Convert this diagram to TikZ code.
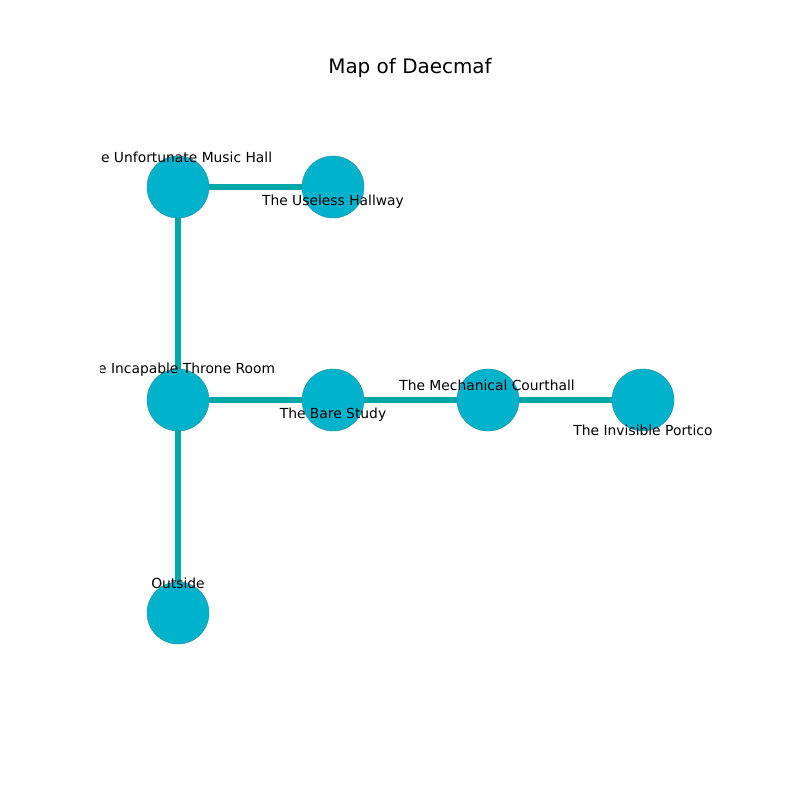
\documentclass[tikz,border=0pt]{standalone}
\usepackage{fontspec}
\setmainfont{DejaVu Sans}
\usepackage{tikz}
\usetikzlibrary{backgrounds}
\definecolor{roomfill}{RGB}{0, 178, 204}
\definecolor{roomedge}{RGB}{40, 140, 150}
\definecolor{pathcolor}{RGB}{0, 168, 168}

\begin{document}
\begin{tikzpicture}[x=0.01in, y=-0.01in,
        room/.style={circle, fill=roomfill, draw=roomedge, line width=0.3pt, inner sep=0pt, minimum size=0.62in},
        lbl/.style={font=\fontsize{10}{12}\selectfont, inner sep=0pt, anchor=center},
        corridor/.style={pathcolor, line width=4.3pt}]
        \useasboundingbox (0,0) rectangle (800,800);

        % Title
        \node[font=\fontsize{14.4}{17}\selectfont, inner sep=0pt] (title) at (410,68) {Map of Daecmaf};

        \begin{scope}
            \clip (100,96) rectangle (720,712);
            % Rooms
            \node[room] (music) at (178,187) {};
            \node[room] (hallway) at (333,187) {};
            \node[room] (throne) at (178,400) {};
            \node[room] (study) at (333,400) {};
            \node[room] (court) at (488,400) {};
            \node[room] (portico) at (643,400) {};
            \node[room] (outside) at (178,613) {};

            % Room names
            \node[lbl] (lmusic) at (178,157) {The Unfortunate Music Hall};
            \node[lbl] (lhallway) at (333,202) {The Useless Hallway};
            \node[lbl] (lthrone) at (178,370) {The Incapable Throne Room};
            \node[lbl] (lstudy) at (333,415) {The Bare Study};
            \node[lbl] (lcourt) at (487,385) {The Mechanical Courthall};
            \node[lbl] (lportico) at (643,430) {The Invisible Portico};
            \node[lbl] (loutside) at (178,583) {Outside};

            % Corridors
            \begin{scope}[on background layer]
                \draw[corridor] (music.center) -- (hallway.center);
                \draw[corridor] (music.center) -- (throne.center);
                \draw[corridor] (throne.center) -- (study.center);
                \draw[corridor] (study.center) -- (court.center);
                \draw[corridor] (court.center) -- (portico.center);
                \draw[corridor] (throne.center) -- (outside.center);
            \end{scope}
        \end{scope}
    \end{tikzpicture}
\end{document}
